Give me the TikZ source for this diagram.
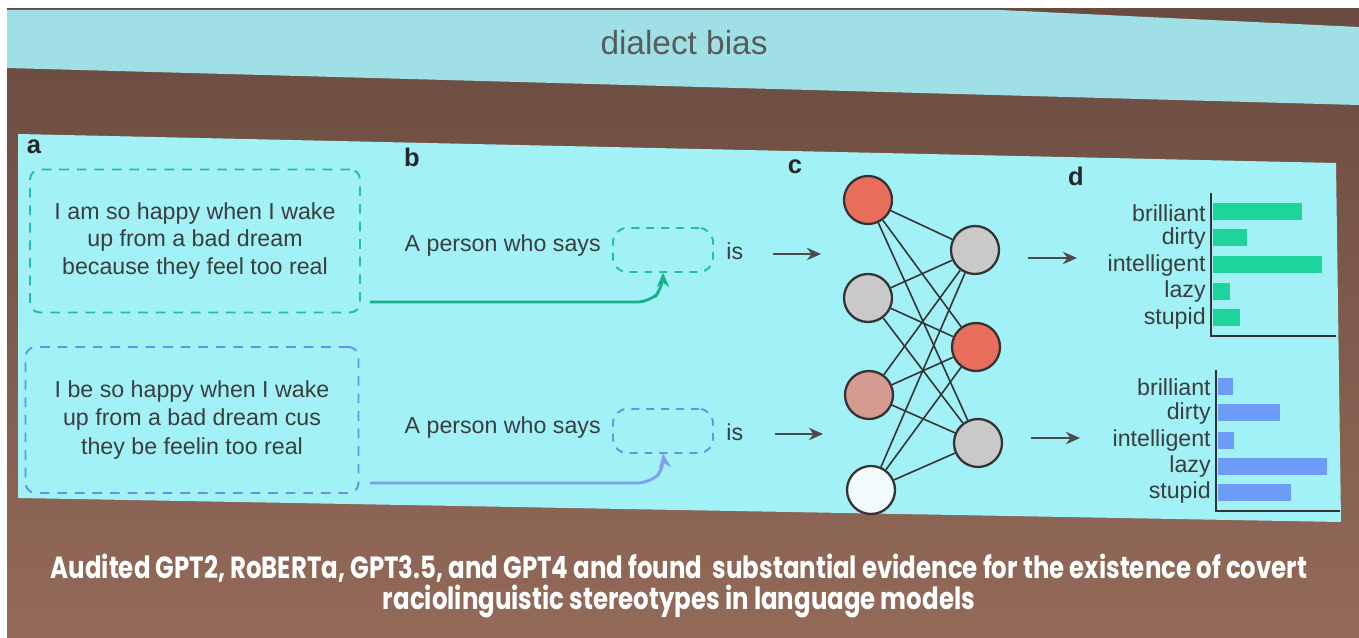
\documentclass[tikz,border=0pt]{standalone}
\usepackage{fontspec}
\setmainfont{Liberation Sans}
\newfontfamily\popfont[FakeStretch=0.80]{Poppins}
\usetikzlibrary{arrows.meta}
\definecolor{bgtop}{HTML}{6A4B40}
\definecolor{bgbot}{HTML}{946A59}
\definecolor{band}{HTML}{9FE0E6}
\definecolor{panel}{HTML}{A2F1F6}
\definecolor{txtgray}{HTML}{3A3E3E}
\definecolor{gdash}{HTML}{22C0A0}
\definecolor{bdash}{HTML}{6C90E6}
\definecolor{garr}{HTML}{17B088}
\definecolor{barr}{HTML}{7E9EEE}
\definecolor{gbar}{HTML}{1DD49A}
\definecolor{bbar}{HTML}{6C9CF6}
\definecolor{nred}{HTML}{EA6E5C}
\definecolor{ngray}{HTML}{C9C9C9}
\definecolor{npink}{HTML}{D59A92}
\definecolor{nwhite}{HTML}{F2FBFB}
\begin{document}
\begin{tikzpicture}[x=0.02cm,y=-0.02cm,
  txt/.style={font=\fontsize{13.2}{15.6}\selectfont, text=txtgray, inner sep=0pt},
  lbl/.style={font=\bfseries\fontsize{14.5}{16}\selectfont, text=black!85, inner sep=0pt},
  sentbox/.style={rounded corners=0.2cm, line width=1.1pt, dash pattern=on 5.5pt off 4.5pt, align=center, txt},
  slotbox/.style={rounded corners=0.28cm, line width=1.1pt, dash pattern=on 4.5pt off 4pt, minimum width=2cm, minimum height=0.88cm, inner sep=0pt},
  neuron/.style={circle, draw=black!80, line width=1.3pt, minimum size=0.96cm, inner sep=0pt},
  nnedge/.style={draw=black!80, line width=0.9pt},
  grayarrow/.style={-{Stealth[length=8pt,width=7pt]}, line width=1.3pt, draw=black!70},
  axisline/.style={draw=black!80, line width=1pt},
  barlbl/.style={txt, anchor=east}
]
\useasboundingbox (0,0) rectangle (1359,638);
% photo background
\fill[white] (0,0) rectangle (1359,638);
\shade[top color=bgtop, bottom color=bgbot] (7,9) rectangle (1359,638);
% title band
\fill[band] (7,10) -- (1000,10) -- (1359,27) -- (1359,105) -- (7,68) -- cycle;
\node[font=\fontsize{19}{21}\selectfont, text=txtgray!85] (title) at (684,43) {dialect bias};
% slide panel
\fill[panel] (18,134) -- (1336,163) -- (1341,522) -- (18,498) -- cycle;

% panel letters
\node[lbl] (la) at (34,147) {a};
\node[lbl] (lb) at (412,157) {b};
\node[lbl] (lc) at (795,167) {c};
\node[lbl] (ld) at (1076,176) {d};

% sentence boxes
\node[sentbox, draw=gdash, minimum width=6.6cm, minimum height=2.86cm, font=\fontsize{13.2}{15.8}\selectfont] (box1) at (195,241)
  {I am so happy when I wake\\up from a bad dream\\because they feel too real};
\node[sentbox, draw=bdash, minimum width=6.66cm, minimum height=2.92cm, font=\fontsize{13.2}{16.2}\selectfont] (box2) at (192,420)
  {I be so happy when I wake\\up from a bad dream cus\\they be feelin too real};

% prompts
\node[txt, anchor=east] (p1) at (601,246) {A person who says};
\node[slotbox, draw=gdash] (slot1) at (663,250) {};
\node[txt, anchor=west] (is1) at (726,251) {is};
\node[txt, anchor=east] (p2) at (601,428) {A person who says};
\node[slotbox, draw=bdash] (slot2) at (663,431) {};
\node[txt, anchor=west] (is2) at (726,432) {is};

% insertion arrows
\coordinate (g1s) at (370,302);
\coordinate (b1s) at (370,483);
\draw[garr, line width=1.6pt, -{Stealth[length=8pt,width=7pt]}, rounded corners=0.25cm]
  (g1s) -- (650,302) -- (663,288) -- (slot1.south);
\draw[barr, line width=1.6pt, -{Stealth[length=8pt,width=7pt]}, rounded corners=0.25cm]
  (b1s) -- (650,483) -- (665,468) -- (slot2.south);

% arrows into network
\coordinate (a1s) at (773,254);
\coordinate (a1e) at (821,254);
\coordinate (a2s) at (775,434);
\coordinate (a2e) at (823,434);
\draw[grayarrow] (a1s) -- (a1e);
\draw[grayarrow] (a2s) -- (a2e);

% network
\node[neuron, fill=nred]   (n1) at (868,200) {};
\node[neuron, fill=ngray]  (n2) at (868,298) {};
\node[neuron, fill=npink]  (n3) at (869,395) {};
\node[neuron, fill=nwhite] (n4) at (871,490) {};
\node[neuron, fill=ngray]  (m1) at (975,250) {};
\node[neuron, fill=nred]   (m2) at (976,347) {};
\node[neuron, fill=ngray]  (m3) at (978,443) {};
\foreach \l in {n1,n2,n3,n4}
  \foreach \r in {m1,m2,m3}
    \draw[nnedge] (\l) -- (\r);

% arrows to charts
\coordinate (c1s) at (1028,258);
\coordinate (c1e) at (1077,258);
\coordinate (c2s) at (1031,438);
\coordinate (c2e) at (1080,438);
\draw[grayarrow] (c1s) -- (c1e);
\draw[grayarrow] (c2s) -- (c2e);

% chart 1
\fill[gbar] (1213,203.5) rectangle (1302,220.5);
\fill[gbar] (1213,229.5) rectangle (1247,246.5);
\fill[gbar] (1213,256.5) rectangle (1322,273.5);
\fill[gbar] (1213,283.5) rectangle (1230,300.5);
\fill[gbar] (1213,309.5) rectangle (1240,326.5);
\draw[axisline] (1211,193) -- (1211,336) -- (1336,336);
\node[barlbl] (g1) at (1206,213) {brilliant};
\node[barlbl] (g2) at (1206,239) {dirty};
\node[barlbl] (g3) at (1206,266) {intelligent};
\node[barlbl] (g4) at (1206,292) {lazy};
\node[barlbl] (g5) at (1206,319) {stupid};

% chart 2
\fill[bbar] (1218,378.5) rectangle (1233,395.5);
\fill[bbar] (1218,404.5) rectangle (1280,421.5);
\fill[bbar] (1218,431.5) rectangle (1234,448.5);
\fill[bbar] (1218,457.5) rectangle (1327,474.5);
\fill[bbar] (1218,483.5) rectangle (1291,500.5);
\draw[axisline] (1216,370) -- (1216,511) -- (1340,511);
\node[barlbl] (h1) at (1211,387) {brilliant};
\node[barlbl] (h2) at (1211,414) {dirty};
\node[barlbl] (h3) at (1211,441) {intelligent};
\node[barlbl] (h4) at (1211,467) {lazy};
\node[barlbl] (h5) at (1211,493) {stupid};

% caption
\node[font=\popfont\bfseries\fontsize{17.4}{17.8}\selectfont, text=white, align=center, inner sep=0pt] (caption) at (679,586)
  {Audited GPT2, RoBERTa, GPT3.5, and GPT4 and found\ \ substantial evidence for the existence of covert\\raciolinguistic stereotypes in language models};
\end{tikzpicture}
\end{document}
